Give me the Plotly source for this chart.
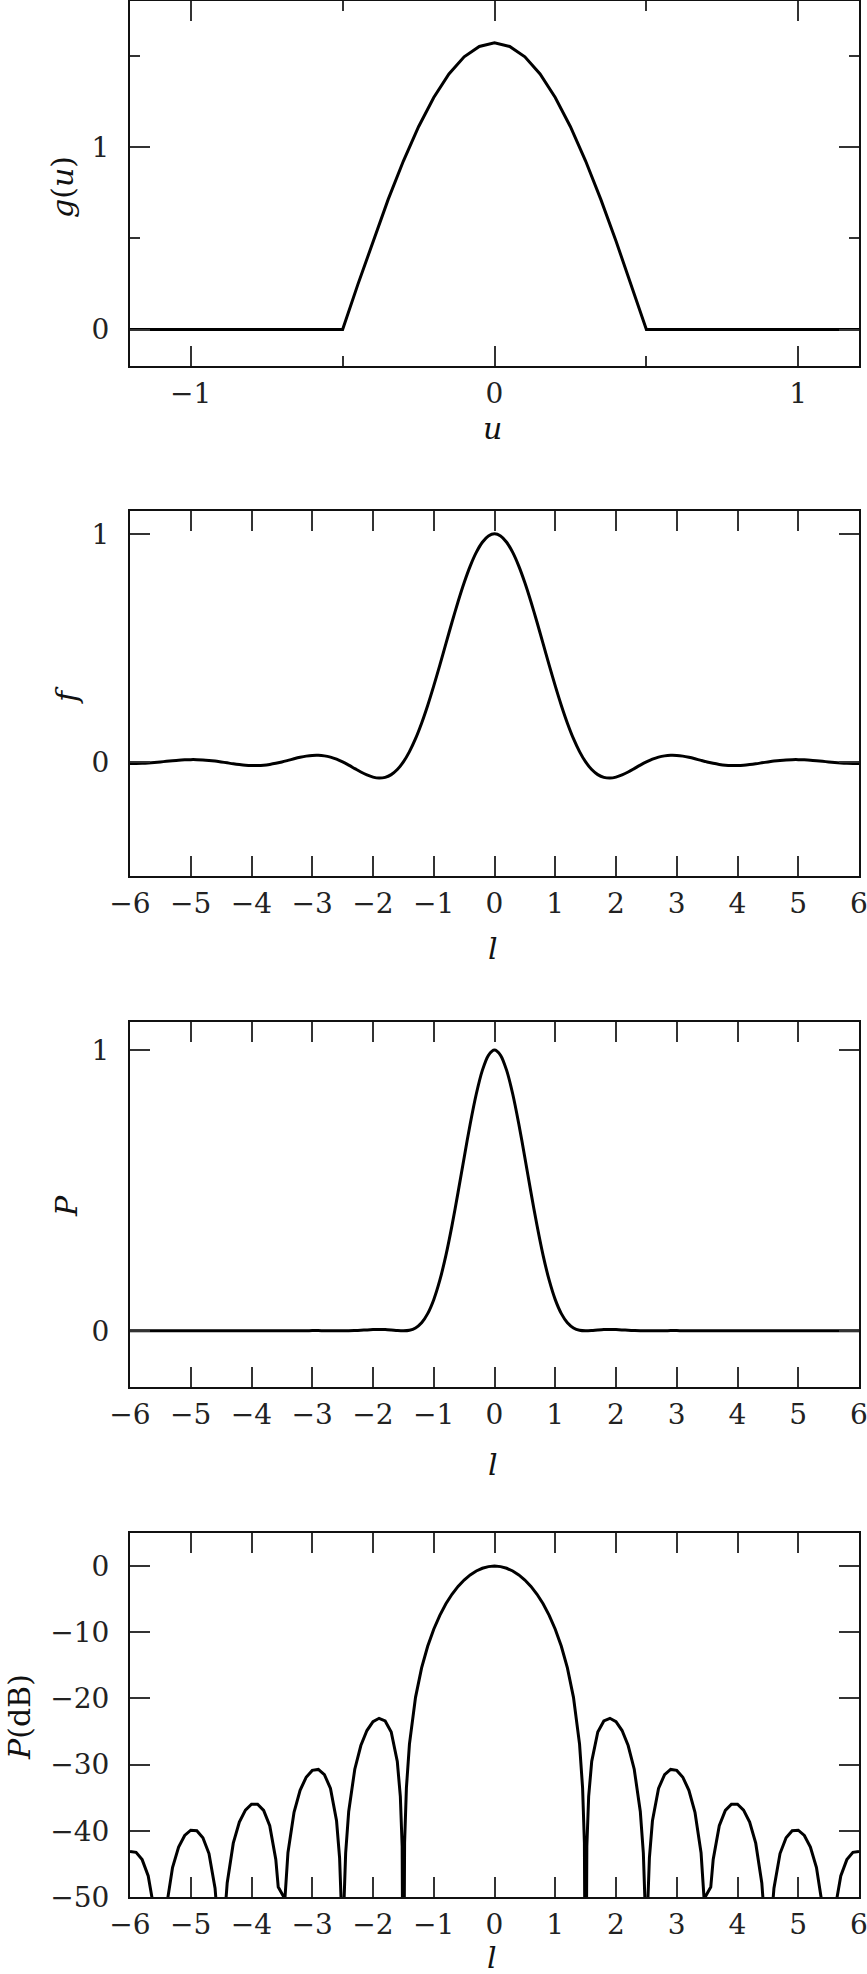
import plotly.graph_objects as go

# ---- panel 1: aperture taper g(u)
u_vals = [-1.2, -0.5, -0.45, -0.4, -0.35, -0.3, -0.25, -0.2, -0.15, -0.1, -0.05, 0.0,
          0.05, 0.1, 0.15, 0.2, 0.25, 0.3, 0.35, 0.4, 0.45, 0.5, 1.2]
g_vals = [0.0, 0.0, 0.246, 0.485, 0.713, 0.923, 1.111, 1.271, 1.400, 1.494, 1.551, 1.571,
          1.551, 1.494, 1.400, 1.271, 1.111, 0.923, 0.713, 0.485, 0.246, 0.0, 0.0]

# ---- panels 2 and 3: voltage pattern f(l) and power pattern P(l)
l_vals = [-6.0, -5.9, -5.8, -5.7, -5.6, -5.5, -5.4, -5.3, -5.2, -5.1,
          -5.0, -4.9, -4.8, -4.7, -4.6, -4.5, -4.4, -4.3, -4.2, -4.1,
          -4.0, -3.9, -3.8, -3.7, -3.6, -3.5, -3.4, -3.3, -3.2, -3.1,
          -3.0, -2.9, -2.8, -2.7, -2.6, -2.5, -2.4, -2.3, -2.2, -2.1,
          -2.0, -1.9, -1.8, -1.7, -1.6, -1.5, -1.4, -1.3, -1.2, -1.1,
          -1.0, -0.9, -0.8, -0.7, -0.6, -0.5, -0.4, -0.3, -0.2, -0.1,
          0.0,
          0.1, 0.2, 0.3, 0.4, 0.5, 0.6, 0.7, 0.8, 0.9, 1.0,
          1.1, 1.2, 1.3, 1.4, 1.5, 1.6, 1.7, 1.8, 1.9, 2.0,
          2.1, 2.2, 2.3, 2.4, 2.5, 2.6, 2.7, 2.8, 2.9, 3.0,
          3.1, 3.2, 3.3, 3.4, 3.5, 3.6, 3.7, 3.8, 3.9, 4.0,
          4.1, 4.2, 4.3, 4.4, 4.5, 4.6, 4.7, 4.8, 4.9, 5.0,
          5.1, 5.2, 5.3, 5.4, 5.5, 5.6, 5.7, 5.8, 5.9, 6.0]

f_vals = [-0.0070, -0.0069, -0.0061, -0.0046, -0.0025, 0.0, 0.0027, 0.0053, 0.0076, 0.0092,
          0.0101, 0.0100, 0.0089, 0.0067, 0.0037, 0.0, -0.0040, -0.0081, -0.0116, -0.0144,
          -0.0159, -0.0159, -0.0143, -0.0109, -0.0061, 0.0, 0.0068, 0.0138, 0.0202, 0.0254,
          0.0286, 0.0291, 0.0266, 0.0209, 0.0119, 0.0, -0.0140, -0.0292, -0.0441, -0.0572,
          -0.0667, -0.0708, -0.0676, -0.0557, -0.0334, 0.0, 0.0452, 0.1020, 0.1700, 0.2477,
          0.3333, 0.4246, 0.5186, 0.6123, 0.7023, 0.7854, 0.8584, 0.9184, 0.9631, 0.9907,
          1.0,
          0.9907, 0.9631, 0.9184, 0.8584, 0.7854, 0.7023, 0.6123, 0.5186, 0.4246, 0.3333,
          0.2477, 0.1700, 0.1020, 0.0452, 0.0, -0.0334, -0.0557, -0.0676, -0.0708, -0.0667,
          -0.0572, -0.0441, -0.0292, -0.0140, 0.0, 0.0119, 0.0209, 0.0266, 0.0291, 0.0286,
          0.0254, 0.0202, 0.0138, 0.0068, 0.0, -0.0061, -0.0109, -0.0143, -0.0159, -0.0159,
          -0.0144, -0.0116, -0.0081, -0.0040, 0.0, 0.0037, 0.0067, 0.0089, 0.0100, 0.0101,
          0.0092, 0.0076, 0.0053, 0.0027, 0.0, -0.0025, -0.0046, -0.0061, -0.0069, -0.0070]

p_vals = [0.0, 0.0, 0.0, 0.0, 0.0, 0.0, 0.0, 0.0, 0.0001, 0.0001,
          0.0001, 0.0001, 0.0001, 0.0, 0.0, 0.0, 0.0, 0.0001, 0.0001, 0.0002,
          0.0003, 0.0003, 0.0002, 0.0001, 0.0, 0.0, 0.0, 0.0002, 0.0004, 0.0006,
          0.0008, 0.0008, 0.0007, 0.0004, 0.0001, 0.0, 0.0002, 0.0009, 0.0019, 0.0033,
          0.0044, 0.0050, 0.0046, 0.0031, 0.0011, 0.0, 0.0020, 0.0104, 0.0289, 0.0614,
          0.1111, 0.1803, 0.2689, 0.3749, 0.4932, 0.6169, 0.7369, 0.8435, 0.9276, 0.9815,
          1.0,
          0.9815, 0.9276, 0.8435, 0.7369, 0.6169, 0.4932, 0.3749, 0.2689, 0.1803, 0.1111,
          0.0614, 0.0289, 0.0104, 0.0020, 0.0, 0.0011, 0.0031, 0.0046, 0.0050, 0.0044,
          0.0033, 0.0019, 0.0009, 0.0002, 0.0, 0.0001, 0.0004, 0.0007, 0.0008, 0.0008,
          0.0006, 0.0004, 0.0002, 0.0, 0.0, 0.0, 0.0001, 0.0002, 0.0003, 0.0003,
          0.0002, 0.0001, 0.0001, 0.0, 0.0, 0.0, 0.0, 0.0001, 0.0001, 0.0001,
          0.0001, 0.0001, 0.0, 0.0, 0.0, 0.0, 0.0, 0.0, 0.0, 0.0]

# ---- panel 4: power pattern in dB (nulls fall below the -50 dB floor)
l_db = [-6.0, -5.9, -5.8, -5.7, -5.6, -5.5, -5.4, -5.3, -5.2, -5.1,
        -5.0, -4.9, -4.8, -4.7, -4.6, -4.55, -4.5, -4.45, -4.4, -4.3,
        -4.2, -4.1, -4.0, -3.9, -3.8, -3.7, -3.6, -3.56, -3.45, -3.4,
        -3.3, -3.2, -3.1, -3.0, -2.9, -2.8, -2.7, -2.6, -2.55, -2.52,
        -2.5, -2.48, -2.45, -2.4, -2.3, -2.2, -2.1, -2.0, -1.9, -1.8,
        -1.7, -1.6, -1.55, -1.52, -1.5, -1.48, -1.45, -1.4, -1.3, -1.2,
        -1.1, -1.0, -0.9, -0.8, -0.7, -0.6, -0.5, -0.4, -0.3, -0.2, -0.1,
        0.0,
        0.1, 0.2, 0.3, 0.4, 0.5, 0.6, 0.7, 0.8, 0.9, 1.0, 1.1,
        1.2, 1.3, 1.4, 1.45, 1.48, 1.5, 1.52, 1.55, 1.6, 1.7,
        1.8, 1.9, 2.0, 2.1, 2.2, 2.3, 2.4, 2.45, 2.48, 2.5,
        2.52, 2.55, 2.6, 2.7, 2.8, 2.9, 3.0, 3.1, 3.2, 3.3,
        3.4, 3.45, 3.56, 3.6, 3.7, 3.8, 3.9, 4.0, 4.1, 4.2,
        4.3, 4.4, 4.45, 4.5, 4.55, 4.6, 4.7, 4.8, 4.9, 5.0,
        5.1, 5.2, 5.3, 5.4, 5.5, 5.6, 5.7, 5.8, 5.9, 6.0]

p_db = [-43.11, -43.25, -44.35, -46.82, -52.11, -80.0, -51.47, -45.55, -42.44, -40.70,
        -39.91, -39.99, -41.04, -43.44, -48.66, -54.37, -80.0, -53.98, -47.87, -41.87,
        -38.69, -36.86, -35.99, -35.98, -36.92, -39.23, -44.32, -48.5, -50.3, -43.31,
        -37.20, -33.89, -31.90, -30.87, -30.72, -31.50, -33.60, -38.49, -44.08, -51.79,
        -80.0, -51.50, -43.35, -37.08, -30.69, -27.11, -24.85, -23.52, -23.00, -23.40,
        -25.08, -29.53, -34.81, -42.38, -80.0, -41.84, -33.51, -26.90, -19.83, -15.39,
        -12.12, -9.54, -7.44, -5.70, -4.26, -3.07, -2.10, -1.33, -0.74, -0.33, -0.08,
        0.0,
        -0.08, -0.33, -0.74, -1.33, -2.10, -3.07, -4.26, -5.70, -7.44, -9.54, -12.12,
        -15.39, -19.83, -26.90, -33.51, -41.84, -80.0, -42.38, -34.81, -29.53, -25.08,
        -23.40, -23.00, -23.52, -24.85, -27.11, -30.69, -37.08, -43.35, -51.50, -80.0,
        -51.79, -44.08, -38.49, -33.60, -31.50, -30.72, -30.87, -31.90, -33.89, -37.20,
        -43.31, -50.3, -48.5, -44.32, -39.23, -36.92, -35.98, -35.99, -36.86, -38.69,
        -41.87, -47.87, -53.98, -80.0, -54.37, -48.66, -43.44, -41.04, -39.99, -39.91,
        -40.70, -42.44, -45.55, -51.47, -80.0, -52.11, -46.82, -44.35, -43.25, -43.11]

# tick positions
g_xticks = [-1, 0, 1]
g_xminor = [-0.5, 0.5]
g_yticks = [0, 1]
g_yminor = [0.5, 1.5]
l_ticks = [-6, -5, -4, -3, -2, -1, 0, 1, 2, 3, 4, 5, 6]
unit_ticks = [0, 1]
db_ticks = [0, -10, -20, -30, -40, -50]

W, H = 867, 1974
FONT = "DejaVu Serif"
LINE = dict(color="#000000", width=3)

fig = go.Figure()
fig.add_trace(go.Scatter(x=u_vals, y=g_vals, mode="lines", line=LINE, xaxis="x", yaxis="y"))
fig.add_trace(go.Scatter(x=l_vals, y=f_vals, mode="lines", line=dict(LINE, shape="spline", smoothing=0.8),
                         xaxis="x2", yaxis="y2"))
fig.add_trace(go.Scatter(x=l_vals, y=p_vals, mode="lines", line=dict(LINE, shape="spline", smoothing=0.8),
                         xaxis="x3", yaxis="y3"))
fig.add_trace(go.Scatter(x=l_db, y=p_db, mode="lines", line=LINE, xaxis="x4", yaxis="y4"))

common = dict(showline=True, linecolor="#111111", linewidth=2, mirror="allticks",
              ticks="inside", ticklen=20, tickwidth=2, tickcolor="#333333",
              showgrid=False, zeroline=False, ticklabeloverflow="allow", automargin=False,
              tickfont=dict(family=FONT, size=28, color="#222222"))

xdom = [130 / W, 859 / W]


def ydom(top_px, bot_px):
    return [1 - bot_px / H, 1 - top_px / H]


minor_style = dict(ticks="inside", ticklen=10, tickwidth=2, tickcolor="#333333", showgrid=False)
XSO = 1
YSO = 13

fig.update_layout(
    width=W, height=H,
    margin=dict(l=0, r=0, t=0, b=0, autoexpand=False),
    paper_bgcolor="white", plot_bgcolor="white",
    showlegend=False,
    xaxis=dict(common, domain=xdom, range=[-1.2, 1.2], tickvals=g_xticks, anchor="y",
               minor=dict(minor_style, tickvals=g_xminor), ticklabelstandoff=XSO),
    yaxis=dict(common, domain=ydom(1, 366), range=[-0.2, 1.8], tickvals=g_yticks, anchor="x",
               minor=dict(minor_style, tickvals=g_yminor), ticklabelstandoff=YSO),
    xaxis2=dict(common, domain=xdom, range=[-6, 6], tickvals=l_ticks, anchor="y2", ticklabelstandoff=XSO),
    yaxis2=dict(common, domain=ydom(511, 876), range=[-0.5, 1.1], tickvals=unit_ticks, anchor="x2",
                ticklabelstandoff=YSO),
    xaxis3=dict(common, domain=xdom, range=[-6, 6], tickvals=l_ticks, anchor="y3", ticklabelstandoff=XSO),
    yaxis3=dict(common, domain=ydom(1022, 1387), range=[-0.2, 1.1], tickvals=unit_ticks, anchor="x3",
                ticklabelstandoff=YSO),
    xaxis4=dict(common, domain=xdom, range=[-6, 6], tickvals=l_ticks, anchor="y4", ticklabelstandoff=XSO),
    yaxis4=dict(common, domain=ydom(1533, 1897), range=[-50, 5], tickvals=db_ticks, anchor="x4",
                ticklabelstandoff=YSO),
)

titles = [
    ("<i>u</i>", 492, 428, 0),
    ("<i>g</i>(<i>u</i>)", 62, 187, -90),
    ("<i>l</i>", 493, 948, 0),
    ("<i>f</i>", 66, 695, -90),
    ("<i>l</i>", 493, 1464, 0),
    ("<i>P</i>", 66, 1206, -90),
    ("<i>l</i>", 492, 1957, 0),
    ("<i>P</i>(dB)", 19, 1717, -90),
]
for text, px, py, ang in titles:
    fig.add_annotation(text=text, x=px / W, y=1 - py / H, xref="paper", yref="paper",
                       xanchor="center", yanchor="middle", showarrow=False, textangle=ang,
                       font=dict(family=FONT, size=30, color="#111111"))

fig.write_html("out.html", config={"displayModeBar": False, "staticPlot": True})

# remove the browser's default page margin so the figure sits at the window origin
with open("out.html", "r", encoding="utf-8") as fh:
    html = fh.read()
html = html.replace("<head>", "<head><style>html,body{margin:0;padding:0;overflow:hidden;}</style>", 1)
with open("out.html", "w", encoding="utf-8") as fh:
    fh.write(html)
